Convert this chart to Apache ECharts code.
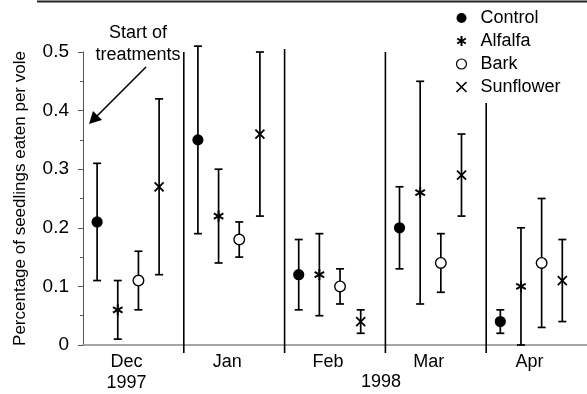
<!DOCTYPE html>
<html>
<head>
<meta charset="utf-8">
<script src="https://cdn.jsdelivr.net/npm/echarts@6/dist/echarts.min.js"></script>
<style>html,body{margin:0;padding:0;background:#fff}#c{width:587px;height:394px}</style>
</head>
<body>
<div id="c"></div>
<script>
const months = ['Dec', 'Jan', 'Feb', 'Mar', 'Apr'];
const monthLabels = ['Dec\n1997', 'Jan', 'Feb', 'Mar', 'Apr'];
const yearLabel2 = '1998';
const seriesNames = ['Control', 'Alfalfa', 'Bark', 'Sunflower'];

const controlMean = [0.21, 0.35, 0.12, 0.20, 0.04];
const controlLow  = [0.11, 0.19, 0.06, 0.13, 0.02];
const controlHigh = [0.31, 0.51, 0.18, 0.27, 0.06];

const alfalfaMean = [0.06, 0.22, 0.12, 0.26, 0.10];
const alfalfaLow  = [0.01, 0.14, 0.05, 0.07, 0.00];
const alfalfaHigh = [0.11, 0.30, 0.19, 0.45, 0.20];

const barkMean = [0.11, 0.18, 0.10, 0.14, 0.14];
const barkLow  = [0.06, 0.15, 0.07, 0.09, 0.03];
const barkHigh = [0.16, 0.21, 0.13, 0.19, 0.25];

const sunMean = [0.27, 0.36, 0.04, 0.29, 0.11];
const sunLow  = [0.12, 0.22, 0.02, 0.22, 0.04];
const sunHigh = [0.42, 0.50, 0.06, 0.36, 0.18];

// vertical separators: boundary index (left edge of month) and top value
const sepIndex = [1, 2, 3, 4];
const sepTop = [0.5, 0.505, 0.5, 0.413];

const yMin = 0, yMax = 0.5, yInterval = 0.1;

const FONT = "'Liberation Sans', Arial, Helvetica, sans-serif";
const fracs = [0.14, 0.345, 0.55, 0.755];
const markers = ['dot', 'star', 'open', 'cross'];

function markerShape(type, x, y) {
  const s = {stroke: '#000', lineWidth: 1.8};
  if (type === 'dot') return [{type: 'circle', shape: {cx: x, cy: y, r: 5.6}, style: {fill: '#000'}}];
  if (type === 'open') return [{type: 'circle', shape: {cx: x, cy: y, r: 5.3}, style: {fill: '#fff', stroke: '#000', lineWidth: 1.4}}];
  if (type === 'star') {
    const r = 5.5, out = [];
    for (let a = 0; a < 3; a++) {
      const ang = Math.PI / 2 + a * Math.PI / 3;
      out.push({type: 'line', shape: {x1: x - r * Math.cos(ang), y1: y - r * Math.sin(ang), x2: x + r * Math.cos(ang), y2: y + r * Math.sin(ang)}, style: {stroke: '#000', lineWidth: 2}});
    }
    return out;
  }
  const r = 4.5;
  return [
    {type: 'line', shape: {x1: x - r, y1: y - r, x2: x + r, y2: y + r}, style: s},
    {type: 'line', shape: {x1: x - r, y1: y + r, x2: x + r, y2: y - r}, style: s}
  ];
}

function makeSeries(k, mean, low, high) {
  return {
    name: seriesNames[k],
    type: 'custom',
    itemStyle: {color: '#000'},
    data: mean.map((m, i) => [i, m, low[i], high[i]]),
    renderItem: function (params, api) {
      const i = api.value(0);
      const c = api.coord([i, api.value(1)]);
      const bw = api.size([1, 0])[0];
      const x = c[0] - bw / 2 + bw * fracs[k];
      const yL = api.coord([i, api.value(2)])[1];
      const yH = api.coord([i, api.value(3)])[1];
      const cap = 4;
      const ls = {stroke: '#000', lineWidth: 1.7};
      const children = [
        {type: 'line', shape: {x1: x, y1: yL, x2: x, y2: yH}, style: ls},
        {type: 'line', shape: {x1: x - cap, y1: yL, x2: x + cap, y2: yL}, style: ls},
        {type: 'line', shape: {x1: x - cap, y1: yH, x2: x + cap, y2: yH}, style: ls}
      ].concat(markerShape(markers[k], x, c[1]));
      return {type: 'group', children: children};
    },
    clip: false,
    z: 3
  };
}

const sepSeries = {
  type: 'custom',
  name: 'sep',
  data: sepIndex.map((b, j) => [b, sepTop[j]]),
  clip: false,
  renderItem: function (params, api) {
    const b = api.value(0);
    const bw = api.size([1, 0])[0];
    const c0 = api.coord([b, 0]);
    const x = c0[0] - bw / 2;
    const yT = api.coord([b, api.value(1)])[1];
    return {type: 'line', shape: {x1: x, y1: yT, x2: x, y2: c0[1] + 8}, style: {stroke: '#000', lineWidth: 1.6}};
  },
  z: 2
};

const chart = echarts.init(document.getElementById('c'), null, {renderer: 'canvas'});
chart.setOption({
  animation: false,
  backgroundColor: '#fff',
  textStyle: {fontFamily: FONT},
  grid: {left: 83, top: 52, bottom: 44, right: -13.5, containLabel: false},
  xAxis: {
    type: 'category',
    data: monthLabels,
    boundaryGap: true,
    axisLine: {lineStyle: {color: '#888', width: 1.5}},
    axisTick: {show: false},
    axisLabel: {fontSize: 18, color: '#000', fontFamily: FONT, margin: 7, lineHeight: 21, padding: [0, 14, 0, 0]},
    splitLine: {show: false}
  },
  yAxis: {
    type: 'value',
    min: yMin, max: yMax, interval: yInterval,
    name: 'Percentage of seedlings eaten per vole',
    nameLocation: 'middle',
    nameGap: 54,
    nameTextStyle: {fontSize: 17, color: '#000', fontFamily: FONT},
    axisLine: {show: true, lineStyle: {color: '#555', width: 1}},
    axisTick: {show: true, length: 5, lineStyle: {color: '#555'}},
    minorTick: {show: true, splitNumber: 2, length: 3, lineStyle: {color: '#555'}},
    axisLabel: {fontSize: 19, color: '#000', fontFamily: FONT, margin: 14},
    splitLine: {show: false}
  },
  legend: {
    orient: 'vertical',
    left: 449, top: 4,
    itemWidth: 28, itemHeight: 10, itemGap: 5,
    textStyle: {fontSize: 18, color: '#000', fontFamily: FONT},
    data: [
      {name: 'Control', icon: 'circle'},
      {name: 'Alfalfa', icon: 'path://M5,0L5,10M0.67,2.5L9.33,7.5M0.67,7.5L9.33,2.5', itemStyle: {color: 'none', borderColor: '#000', borderWidth: 2}},
      {name: 'Bark', icon: 'circle', itemStyle: {color: '#fff', borderColor: '#000', borderWidth: 1.2}},
      {name: 'Sunflower', icon: 'path://M1,1L9,9M1,9L9,1', itemStyle: {color: 'none', borderColor: '#000', borderWidth: 1.6}}
    ],
    selectedMode: false
  },
  graphic: [
    {type: 'line', shape: {x1: 37, y1: 1.5, x2: 587, y2: 1.5}, style: {stroke: '#222', lineWidth: 2}},
    {type: 'text', x: 138, y: 22, style: {text: 'Start of\ntreatments', fill: '#000', font: "18px " + FONT, textAlign: 'center', lineHeight: 22}},
    {type: 'text', x: 381, y: 373, style: {text: yearLabel2, fill: '#000', font: "18px " + FONT, textAlign: 'center'}},
    {type: 'line', shape: {x1: 146, y1: 67, x2: 96, y2: 117}, style: {stroke: '#000', lineWidth: 1.6}},
    {type: 'polygon', shape: {points: [[89, 124], [93, 111], [102, 120]]}, style: {fill: '#000'}}
  ],
  series: [
    sepSeries,
    makeSeries(0, controlMean, controlLow, controlHigh),
    makeSeries(1, alfalfaMean, alfalfaLow, alfalfaHigh),
    makeSeries(2, barkMean, barkLow, barkHigh),
    makeSeries(3, sunMean, sunLow, sunHigh)
  ]
});
</script>
</body>
</html>
